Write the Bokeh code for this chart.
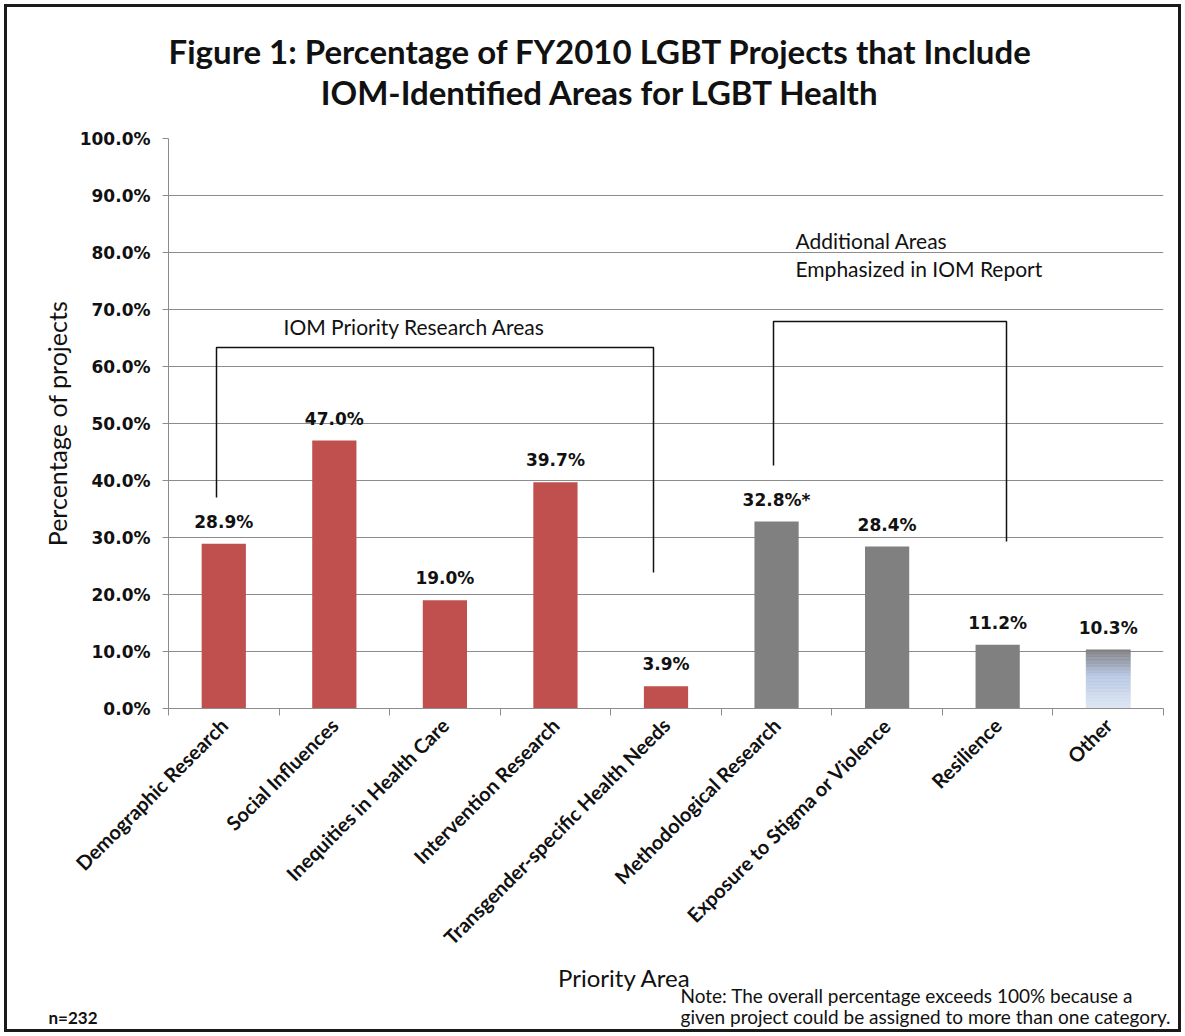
import math
from bokeh.plotting import figure
from bokeh.layouts import column
from bokeh.models import Range1d, FixedTicker, PrintfTickFormatter, Label
from bokeh.core.properties import value
from bokeh.embed import file_html
from bokeh.resources import INLINE

# ---------------- data ----------------
categories = ["Demographic Research", "Social Influences", "Inequities in Health Care",
              "Intervention Research", "Transgender-specific Health Needs",
              "Methodological Research", "Exposure to Stigma or Violence",
              "Resilience", "Other"]
percentages = [28.9, 47.0, 19.0, 39.7, 3.9, 32.8, 28.4, 11.2, 10.3]
label_marks = ["", "", "", "", "", "*", "", "", ""]
groups = ["IOM", "IOM", "IOM", "IOM", "IOM", "Additional", "Additional", "Additional", "Other"]
y_ticks = [0, 10, 20, 30, 40, 50, 60, 70, 80, 90, 100]
group_title_iom = "IOM Priority Research Areas"
group_title_add = ["Additional Areas", "Emphasized in IOM Report"]
title_lines = ["Figure 1: Percentage of FY2010 LGBT Projects that Include",
               "IOM-Identified Areas for LGBT Health"]
y_title = "Percentage of projects"
x_title = "Priority Area"
note_lines = ["Note: The overall percentage exceeds 100% because a",
              "given project could be assigned to more than one category."]
n_text = "n=232"

# ---------------- layout (page pixels) ----------------
W = 1185
TOTAL_H = 1036
TOP_H = 126            # title strip: page y 0..126
MAIN_TOP, MAIN_BOT = 126, 960
BOT_H = TOTAL_H - MAIN_BOT
FL, FT, FR, FB = 168, 138, 1163, 708
PX_PER_X = (FR - FL) / 9.0
PX_PER_Y = (FB - FT) / 100.0
INK = "#111111"

def px2x(rx):
    return -0.5 + (rx - FL) / PX_PER_X

def px2y(ry):
    return (FB - ry) / PX_PER_Y

def strip(height):
    f = figure(width=W, height=height, output_backend="svg", toolbar_location=None,
               x_range=Range1d(0, W), y_range=Range1d(0, height),
               x_axis_type=None, y_axis_type=None, frame_align=False,
               min_border_left=0, min_border_right=0, min_border_top=0, min_border_bottom=0)
    f.outline_line_color = None
    f.grid.visible = False
    f.background_fill_color = None
    f.border_fill_color = None
    return f

def strip_label(f, top, height, text, rx, ry, size, bold=False, align="left", baseline="middle"):
    f.add_layout(Label(x=rx, y=height - (ry - top), text=text, text_font="Lato",
                       text_font_size=f"{size}px",
                       text_font_style="bold" if bold else "normal",
                       text_color=INK, text_align=align, text_baseline=baseline))

# ---- title strip ----
t = strip(TOP_H)
strip_label(t, 0, TOP_H, title_lines[0], 600, 50, 33, bold=True, align="center")
strip_label(t, 0, TOP_H, title_lines[1], 600, 91, 33, bold=True, align="center")

# ---- main chart ----
p = figure(width=W, height=MAIN_BOT - MAIN_TOP, output_backend="svg", toolbar_location=None,
           x_range=Range1d(-0.5, 8.5), y_range=Range1d(0, 100), frame_align=False,
           min_border_left=FL, min_border_top=FT - MAIN_TOP, min_border_right=W - FR,
           min_border_bottom=MAIN_BOT - FB)
p.outline_line_color = None
p.background_fill_color = None
p.border_fill_color = None

p.xgrid.grid_line_color = None
p.ygrid.grid_line_color = "#8c8c8c"
p.ygrid.grid_line_width = 1
p.ygrid.ticker = FixedTicker(ticks=y_ticks)

ya = p.yaxis[0]
ya.ticker = FixedTicker(ticks=y_ticks)
ya.formatter = PrintfTickFormatter(format="%.1f%%")
ya.axis_line_color = "#8c8c8c"
ya.major_tick_line_color = "#8c8c8c"
ya.major_tick_out = 6
ya.major_tick_in = 0
ya.minor_tick_line_color = None
ya.major_label_text_font = "DejaVu Sans"
ya.major_label_text_font_style = "bold"
ya.major_label_text_font_size = "17px"
ya.major_label_text_color = INK
ya.major_label_standoff = 12
ya.axis_label = y_title
ya.axis_label_text_font = "Lato"
ya.axis_label_text_font_style = "normal"
ya.axis_label_text_font_size = "25px"
ya.axis_label_text_color = INK
ya.axis_label_standoff = 5

idx = list(range(len(categories)))
xa = p.xaxis[0]
xa.ticker = FixedTicker(ticks=idx, minor_ticks=[i - 0.5 for i in range(len(categories) + 1)])
xa.major_label_overrides = {i: c for i, c in zip(idx, categories)}
xa.major_label_orientation = math.pi / 4
xa.axis_line_color = "#8c8c8c"
xa.major_tick_line_color = None
xa.minor_tick_line_color = "#8c8c8c"
xa.minor_tick_out = 7
xa.minor_tick_in = 0
xa.major_label_text_font = "Lato"
xa.major_label_text_font_style = "bold"
xa.major_label_text_font_size = "20px"
xa.major_label_text_color = INK
xa.major_label_standoff = 6

color_map = {"IOM": "#c0504d", "Additional": "#808080"}
solid = [i for i in idx if groups[i] != "Other"]
p.vbar(x=[idx[i] for i in solid], top=[percentages[i] for i in solid], width=0.4,
       bottom=0, fill_color=[color_map[groups[i]] for i in solid], line_color=None)

def lerp(c1, c2, tt):
    return tuple(int(round(a + (b - a) * tt)) for a, b in zip(c1, c2))

def grad_color(tt):  # 0 at top of bar, 1 at bottom
    top, mid, bot = (127, 127, 127), (184, 199, 228), (222, 231, 243)
    c = lerp(top, mid, tt / 0.45) if tt < 0.45 else lerp(mid, bot, (tt - 0.45) / 0.55)
    return "#%02x%02x%02x" % c

NS = 40
for i in idx:
    if groups[i] != "Other":
        continue
    v = percentages[i]
    xs, tops, bots, cols = [], [], [], []
    for k in range(NS):
        xs.append(i)
        tops.append(v * (1 - k / NS))
        bots.append(v * (1 - (k + 1) / NS))
        cols.append(grad_color((k + 0.5) / NS))
    p.vbar(x=xs, top=tops, bottom=bots, width=0.4, fill_color=cols, line_color=cols, line_width=0.5)

p.text(x=idx, y=percentages,
       text=[f"{v:.1f}%{m}" for v, m in zip(percentages, label_marks)],
       text_font=value("DejaVu Sans"), text_font_style="bold", text_font_size="17px",
       text_color=INK, text_align="center", text_baseline="bottom", y_offset=-12)

bx1, bx2 = px2x(216), px2x(653)
p.line(x=[bx1, bx1, bx2, bx2], y=[px2y(497), px2y(347), px2y(347), px2y(572)],
       line_color=INK, line_width=1.5)
cx1, cx2 = px2x(773), px2x(1006)
p.line(x=[cx1, cx1, cx2, cx2], y=[px2y(465), px2y(321), px2y(321), px2y(541)],
       line_color=INK, line_width=1.5)

def main_label(text, rx, ry, size):
    p.add_layout(Label(x=px2x(rx), y=px2y(ry), text=text, text_font="Lato",
                       text_font_size=f"{size}px", text_color=INK,
                       text_align="left", text_baseline="middle"))

main_label(group_title_iom, 283, 326, 21)
main_label(group_title_add[0], 795, 240, 21)
main_label(group_title_add[1], 795, 268, 21)

# ---- bottom strip ----
b = strip(BOT_H)
strip_label(b, MAIN_BOT, BOT_H, x_title, 624, 977, 24, align="center", baseline="alphabetic")
strip_label(b, MAIN_BOT, BOT_H, note_lines[0], 680, 995, 19, baseline="alphabetic")
strip_label(b, MAIN_BOT, BOT_H, note_lines[1], 680, 1016, 19, baseline="alphabetic")
strip_label(b, MAIN_BOT, BOT_H, n_text, 48, 1017, 17, bold=True, baseline="alphabetic")

layout = column(t, p, b, spacing=0)
layout.styles = {"outline": "3px solid #1a1a1a", "outline-offset": "-7px",
                 "background-color": "white"}
open("out.html", "w").write(file_html(layout, INLINE))
